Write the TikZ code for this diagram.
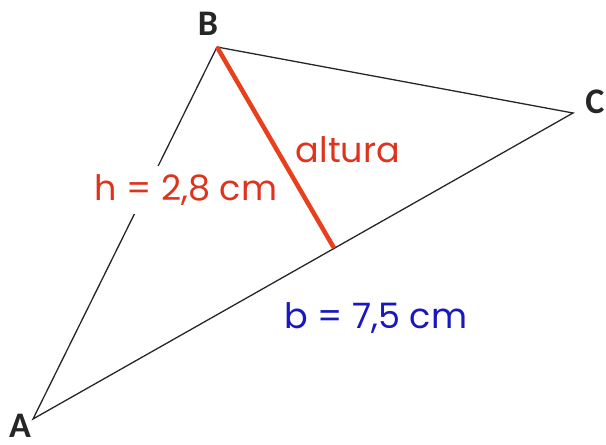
\documentclass[tikz,border=0pt]{standalone}
\usepackage{fontspec}
\setmainfont{Poppins}
\newfontfamily\labfont{Carlito}
\definecolor{altred}{RGB}{232,64,28}
\definecolor{txtred}{RGB}{222,52,30}
\definecolor{txtblue}{RGB}{24,24,190}
\begin{document}
\begin{tikzpicture}[x=1pt,y=-1pt,
  vertex/.style={font=\labfont\bfseries\fontsize{36}{36}\selectfont, text=black!85, inner sep=0pt},
  side/.style={draw=black!85, line width=1.3pt},
  altline/.style={draw=altred, line width=4.5pt},
  redtext/.style={font=\fontsize{35}{35}\selectfont, text=txtred, inner sep=0pt},
  bluetext/.style={font=\fontsize{35}{35}\selectfont, text=txtblue, inner sep=0pt}]
\useasboundingbox (0,0) rectangle (606,445);
\coordinate (A) at (33,419);
\coordinate (B) at (217,47);
\coordinate (C) at (573,113);
\coordinate (H) at (334,248);
\draw[side] (A) -- (B) -- (C) -- cycle;
\draw[altline] (B) -- (H);
\node[redtext, fill=white, inner xsep=2pt, inner ysep=9pt] (hlab) at (186,190) {h = 2,8 cm};
\node[redtext] (alt) at (348,150) {altura};
\node[bluetext] (blab) at (376,318) {b = 7,5 cm};
\node[vertex] (Bl) at (208,24) {B};
\node[vertex] (Cl) at (595,102) {C};
\node[vertex, anchor=base] (Al) at (20,437) {A};
\end{tikzpicture}
\end{document}
